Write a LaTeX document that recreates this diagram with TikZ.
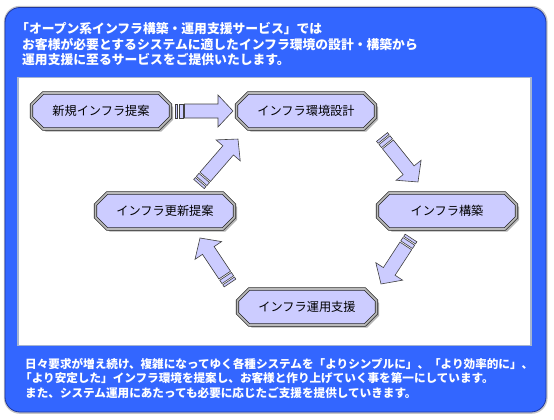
\documentclass[tikz,border=0pt]{standalone}
\usepackage{fontspec}
\setmainfont{Noto Sans CJK JP}
\usetikzlibrary{shapes.misc,shadows}

\definecolor{bgblue}{RGB}{51,102,255}
\definecolor{edgeblue}{RGB}{30,55,160}
\definecolor{boxfill}{RGB}{204,204,255}
\definecolor{panelline}{RGB}{165,180,210}

\tikzset{
  stage/.style={chamfered rectangle, chamfered rectangle xsep=6pt, chamfered rectangle ysep=6pt,
    minimum width=139pt, minimum height=36pt, inner sep=0pt,
    fill=boxfill, draw=black!85, line width=.7pt, double=gray!55, double distance=1.7pt,
    drop shadow={shadow xshift=2.5pt, shadow yshift=-2.5pt, fill=gray!60, opacity=1},
    font=\fontsize{12.2}{14}\selectfont},
  headtxt/.style={anchor=base west, inner sep=0pt, text=white, font=\bfseries\fontsize{12.8}{15}\selectfont},
  foottxt/.style={anchor=base west, inner sep=0pt, text=white, font=\bfseries\fontsize{11.6}{14}\selectfont},
  arrowpart/.style={fill=boxfill, draw=black!75, line width=.6pt, line join=miter},
  pics/fatarrow/.style={code={
    \draw[arrowpart] (0,-7) rectangle (2.5,7);
    \draw[arrowpart] (4,-7) rectangle (8,7);
    \draw[arrowpart] (9.5,-7) -- (#1-15,-7) -- (#1-15,-16) -- (#1,0) -- (#1-15,16) -- (#1-15,7) -- (9.5,7) -- cycle;
  }}
}

\begin{document}
\begin{tikzpicture}[x=1pt, y=-1pt]
    \useasboundingbox (0,0) rectangle (554,420);

    % blue frame and white panel
    \fill[gray!45, rounded corners=16pt] (3.8,5.8) rectangle (547.6,413.8);
    \draw[fill=bgblue, draw=edgeblue, line width=.8pt, rounded corners=15pt] (5,7.5) rectangle (546,412);
    \draw[fill=white, draw=panelline, line width=1.6pt] (18,77.5) rectangle (531,345.5);

    \node[headtxt] (hd1) at (16,34) {「オープン系インフラ構築・運用支援サービス」では};
    \node[headtxt] (hd2) at (22,49) {お客様が必要とするシステムに適したインフラ環境の設計・構築から};
    \node[headtxt] (hd3) at (22,64) {運用支援に至るサービスをご提供いたします。};

    % stages
    \node[stage] at (101,111) (teian) {新規インフラ提案};
    \node[stage] at (306,111) (sekkei) {インフラ環境設計};
    \node[stage] at (447,211) (kouchiku) {インフラ構築};
    \node[stage] at (165,211) (koushin) {インフラ更新提案};
    \node[stage] at (307,307) (unyou) {インフラ運用支援};

    % arrow ends
    \coordinate (t1) at (175,111);  \coordinate (h1) at (233,111);
    \coordinate (t2) at (382,137);  \coordinate (h2) at (418,182);
    \coordinate (t3) at (411,238);  \coordinate (h3) at (381,284);
    \coordinate (t4) at (230,283);  \coordinate (h4) at (200,238);
    \coordinate (t5) at (199,184);  \coordinate (h5) at (238,139);

    \path (t1) -- (h1) pic[pos=0, sloped, allow upside down] {fatarrow=58};
    \path (t2) -- (h2) pic[pos=0, sloped, allow upside down] {fatarrow=57.6};
    \path (t3) -- (h3) pic[pos=0, sloped, allow upside down] {fatarrow=54.9};
    \path (t4) -- (h4) pic[pos=0, sloped, allow upside down] {fatarrow=54.1};
    \path (t5) -- (h5) pic[pos=0, sloped, allow upside down] {fatarrow=59.5};

    \node[foottxt] (ft1) at (25,368) {日々要求が増え続け、複雑になってゆく各種システムを「よりシンプルに」、「より効率的に」、};
    \node[foottxt] (ft2) at (20,382.5) {「より安定した」インフラ環境を提案し、お客様と作り上げていく事を第一にしています。};
    \node[foottxt] (ft3) at (25,397) {また、システム運用にあたっても必要に応じたご支援を提供していきます。};
\end{tikzpicture}
\end{document}
